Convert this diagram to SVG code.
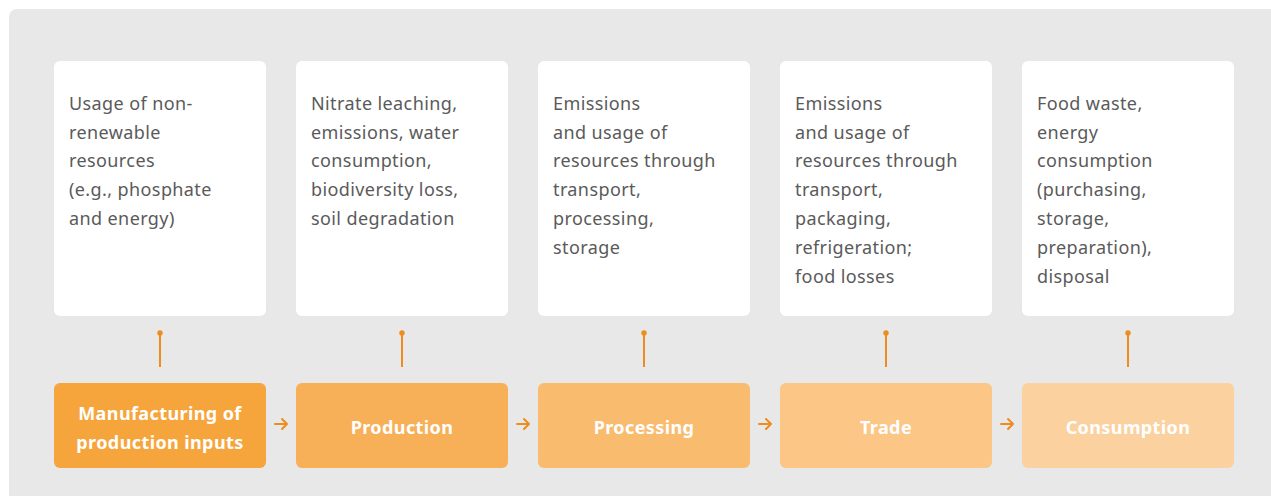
<svg xmlns="http://www.w3.org/2000/svg" width="1271" height="496" viewBox="0 0 1271 496">
<defs>
<style>
.desc{fill:#fff;}
.dt{font-family:"Noto Sans","Open Sans",sans-serif;font-size:18px;letter-spacing:0.4px;fill:#5a5a5a;}
.st{font-family:"Noto Sans","Open Sans",sans-serif;font-size:18px;letter-spacing:0.4px;font-weight:bold;fill:#fff;text-anchor:middle;}
.ln{stroke:#ee8c1d;stroke-width:2;fill:none;}
.dot{fill:#ee8c1d;}
.ar{stroke:#ee8c1d;stroke-width:2;fill:none;stroke-linecap:round;stroke-linejoin:round;}
</style>
</defs>
<rect x="0" y="0" width="1271" height="496" fill="#fff"/>
<rect x="9" y="9" width="1270" height="500" rx="8" fill="#e7e8e7"/>

<g id="node-manufacturing">
<rect class="desc" x="54" y="61" width="212" height="255" rx="6"/>
<text class="dt"><tspan x="69" y="110">Usage of non-</tspan><tspan x="69" y="139">renewable</tspan><tspan x="69" y="167">resources</tspan><tspan x="69" y="196">(e.g., phosphate</tspan><tspan x="69" y="225">and energy)</tspan></text>
<rect x="54" y="383" width="212" height="85" rx="6" fill="#f6a53c"/>
<text class="st"><tspan x="160" y="420">Manufacturing of</tspan><tspan x="160" y="449">production inputs</tspan></text>
</g>

<g id="node-production">
<rect class="desc" x="296" y="61" width="212" height="255" rx="6"/>
<text class="dt"><tspan x="311" y="110">Nitrate leaching,</tspan><tspan x="311" y="139">emissions, water</tspan><tspan x="311" y="167">consumption,</tspan><tspan x="311" y="196">biodiversity loss,</tspan><tspan x="311" y="225">soil degradation</tspan></text>
<rect x="296" y="383" width="212" height="85" rx="6" fill="#f7b057"/>
<text class="st" x="402" y="434">Production</text>
</g>

<g id="node-processing">
<rect class="desc" x="538" y="61" width="212" height="255" rx="6"/>
<text class="dt"><tspan x="553" y="110">Emissions</tspan><tspan x="553" y="139">and usage of</tspan><tspan x="553" y="167">resources through</tspan><tspan x="553" y="196">transport,</tspan><tspan x="553" y="225">processing,</tspan><tspan x="553" y="254">storage</tspan></text>
<rect x="538" y="383" width="212" height="85" rx="6" fill="#f9bc6f"/>
<text class="st" x="644" y="434">Processing</text>
</g>

<g id="node-trade">
<rect class="desc" x="780" y="61" width="212" height="255" rx="6"/>
<text class="dt"><tspan x="795" y="110">Emissions</tspan><tspan x="795" y="139">and usage of</tspan><tspan x="795" y="167">resources through</tspan><tspan x="795" y="196">transport,</tspan><tspan x="795" y="225">packaging,</tspan><tspan x="795" y="254">refrigeration;</tspan><tspan x="795" y="283">food losses</tspan></text>
<rect x="780" y="383" width="212" height="85" rx="6" fill="#fbc686"/>
<text class="st" x="886" y="434">Trade</text>
</g>

<g id="node-consumption">
<rect class="desc" x="1022" y="61" width="212" height="255" rx="6"/>
<text class="dt"><tspan x="1037" y="110">Food waste,</tspan><tspan x="1037" y="139">energy</tspan><tspan x="1037" y="167">consumption</tspan><tspan x="1037" y="196">(purchasing,</tspan><tspan x="1037" y="225">storage,</tspan><tspan x="1037" y="254">preparation),</tspan><tspan x="1037" y="283">disposal</tspan></text>
<rect x="1022" y="383" width="212" height="85" rx="6" fill="#fbd29f"/>
<text class="st" x="1128" y="434">Consumption</text>
</g>

<g id="connectors">
<line class="ln" x1="160" y1="333" x2="160" y2="367"/><circle class="dot" cx="160" cy="333" r="2.7"/>
<line class="ln" x1="402" y1="333" x2="402" y2="367"/><circle class="dot" cx="402" cy="333" r="2.7"/>
<line class="ln" x1="644" y1="333" x2="644" y2="367"/><circle class="dot" cx="644" cy="333" r="2.7"/>
<line class="ln" x1="886" y1="333" x2="886" y2="367"/><circle class="dot" cx="886" cy="333" r="2.7"/>
<line class="ln" x1="1128" y1="333" x2="1128" y2="367"/><circle class="dot" cx="1128" cy="333" r="2.7"/>
<path class="ar" d="M275 424 H287 M282 419 L287 424 L282 429"/>
<path class="ar" d="M517 424 H529 M524 419 L529 424 L524 429"/>
<path class="ar" d="M759 424 H771 M766 419 L771 424 L766 429"/>
<path class="ar" d="M1001 424 H1013 M1008 419 L1013 424 L1008 429"/>
</g>
</svg>
